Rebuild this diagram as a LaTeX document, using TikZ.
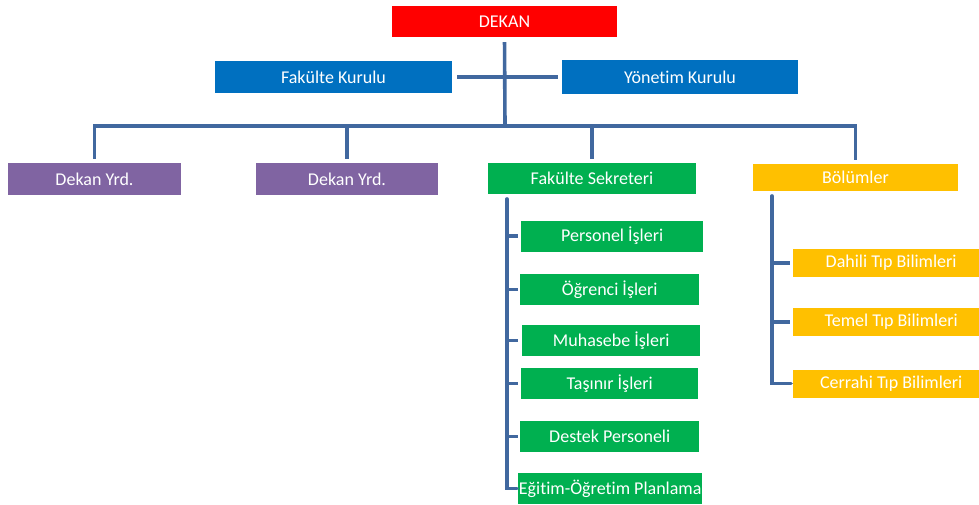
\documentclass[tikz,border=0pt]{standalone}
\usepackage{fontspec}
\setmainfont{Carlito}[Ligatures=NoCommon]
\usetikzlibrary{calc}
\definecolor{linie}{HTML}{41689F}
\definecolor{kirmizi}{HTML}{FF0000}
\definecolor{mavi}{HTML}{0070C0}
\definecolor{mor}{HTML}{8064A2}
\definecolor{yesil}{HTML}{00B050}
\definecolor{sari}{HTML}{FFC000}
\tikzset{
 kutu/.style={rectangle, inner sep=0, text=white, font=\fontsize{18}{20}\selectfont},
 hat/.style={draw=linie, line width=3.6pt}
}
\begin{document}
\begin{tikzpicture}[x=1pt,y=-1pt]
\useasboundingbox (0,0) rectangle (979,505);
\node[kutu, fill=kirmizi, minimum width=225, minimum height=31] (dekan) at (504.5,21.5) {DEKAN};
\node[kutu, fill=mavi, minimum width=237, minimum height=32] (fkurul) at (333.5,77) {Fakülte Kurulu};
\node[kutu, fill=mavi, minimum width=236, minimum height=34] (ykurul) at (680,77) {Yönetim Kurulu};
\node[kutu, fill=mor, minimum width=173, minimum height=32] (yrdA) at (94.5,179) {Dekan Yrd.};
\node[kutu, fill=mor, minimum width=182, minimum height=32] (yrdB) at (347,179) {Dekan Yrd.};
\node[kutu, fill=yesil, minimum width=208, minimum height=31] (sekreter) at (592,178.5) {Fakülte Sekreteri};
\node[kutu, fill=sari, minimum width=205, minimum height=27] (bolum) at (855.5,177.5) {Bölümler};
\coordinate (bus) at (505,126);
\coordinate (sektop) at (507,199);
\coordinate (boltop) at (772,196);
\foreach \ad/\x/\y/\g/\t in {per/521/236/182/Personel İşleri, ogr/520/289.5/179/Öğrenci İşleri, muh/522/340.5/178/Muhasebe İşleri, tas/521/383.5/177/Taşınır İşleri, des/520/436.5/179/Destek Personeli, egi/518/488.5/184/Eğitim-Öğretim Planlama} {
 \node[kutu, fill=yesil, anchor=west, minimum width=\g, minimum height=31] (\ad) at (\x,\y) {\t};
}
\foreach \ad/\y/\t in {dah/263/Dahili Tıp Bilimleri, tem/322/Temel Tıp Bilimleri, cer/383.5/Cerrahi Tıp Bilimleri} {
 \node[kutu, fill=sari, anchor=west, minimum width=196, minimum height=28] (\ad) at (793,\y) {\t};
}
\draw[hat, shorten <=5] (dekan.south) -- (bus);
\draw[hat, shorten <=5, shorten >=4] (fkurul.east) -- (ykurul.west);
\draw[hat, shorten <=4, shorten >=4] (yrdA.north) |- (bus) -| (bolum.north);
\draw[hat, shorten <=4] (yrdB.north) -- (yrdB.north |- bus);
\draw[hat, shorten <=4] (sekreter.north) -- (sekreter.north |- bus);
\draw[hat, line cap=round] (sektop) |- ($(egi.west)+(-1,0)$);
\foreach \ad in {per,ogr,muh,tas,des} {
 \draw[hat] (sektop |- \ad.west) -- ++(11,0);
}
\draw[hat, line cap=round] (boltop) |- ($(cer.west)+(-2,0)$);
\foreach \ad in {dah,tem} {
 \draw[hat] (boltop |- \ad.west) -- ++(18,0);
}
\end{tikzpicture}
\end{document}
